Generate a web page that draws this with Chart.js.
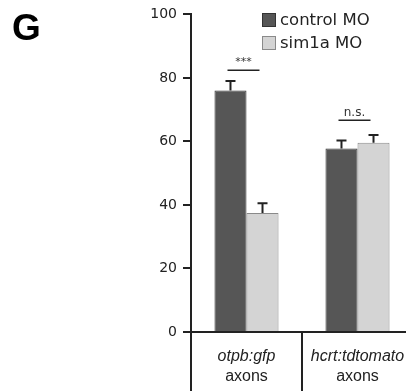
<!DOCTYPE html>
<html>
<head>
<meta charset="utf-8">
<script src="https://cdn.jsdelivr.net/npm/chart.js@4/dist/chart.umd.min.js"></script>
<style>
  html, body { margin: 0; padding: 0; background: #fff; overflow: hidden; }
  #wrap { position: absolute; left: 0; top: 0; width: 416px; height: 391px; }
</style>
</head>
<body>
<div id="wrap"><canvas id="myChart"></canvas></div>
<script>
const categories = [['otpb:gfp', 'axons'], ['hcrt:tdtomato', 'axons']]
const seriesNames = ['control MO', 'sim1a MO']
const controlVals = [76, 57.8]
const sim1aVals = [37.5, 59.6]
const controlErr = [3, 2.5]
const sim1aErr = [3, 2.4]
const sigLabels = ['***', 'n.s.']
const sigLevels = [82.4, 66.7]
const yTicks = [0, 20, 40, 60, 80, 100]

const colors = ['#565656', '#d4d4d4']
const borders = ['#333333', '#8a8a8a']
const errs = [controlErr, sim1aErr]

const extras = {
    id: 'extras',
    afterDatasetsDraw(chart) {
        const ctx = chart.ctx
        const y = chart.scales.y
        const x = chart.scales.x
        ctx.save()
        // error bars
        ctx.strokeStyle = '#222'
        ctx.lineWidth = 2
        chart.data.datasets.forEach((ds, i) => {
            chart.getDatasetMeta(i).data.forEach((bar, j) => {
                const top = y.getPixelForValue(ds.data[j] + errs[i][j])
                ctx.beginPath()
                ctx.moveTo(bar.x, bar.y)
                ctx.lineTo(bar.x, top)
                ctx.moveTo(bar.x - 5, top)
                ctx.lineTo(bar.x + 5, top)
                ctx.stroke()
            })
        })
        // significance marks
        ctx.fillStyle = '#333'
        ctx.textAlign = 'center'
        ctx.textBaseline = 'bottom'
        sigLabels.forEach((lab, j) => {
            const cx = x.getPixelForValue(j) - 3
            const ly = y.getPixelForValue(sigLevels[j])
            ctx.lineWidth = 1.5
            ctx.beginPath()
            ctx.moveTo(cx - 16, ly)
            ctx.lineTo(cx + 16, ly)
            ctx.stroke()
            ctx.font = (j === 0 ? '11px' : '12px') + ' "DejaVu Sans"'
            ctx.fillText(lab, cx, ly - (j === 0 ? 3 : 1))
        })
        // category labels
        ctx.fillStyle = '#222'
        ctx.textBaseline = 'middle'
        categories.forEach((c, j) => {
            const cx = x.getPixelForValue(j)
            ctx.font = 'italic 16px "Liberation Sans"'
            ctx.fillText(c[0], cx, 357)
            ctx.font = '16px "Liberation Sans"'
            ctx.fillText(c[1], cx, 377)
        })
        // legend
        ctx.textAlign = 'left'
        seriesNames.forEach((n, i) => {
            const ty = 20 + i * 23
            ctx.fillStyle = colors[i]
            ctx.fillRect(262, ty - 7, 14, 14)
            ctx.strokeStyle = borders[i]
            ctx.lineWidth = 1
            ctx.strokeRect(262.5, ty - 6.5, 13, 13)
            ctx.fillStyle = '#222'
            ctx.font = '16.5px "DejaVu Sans"'
            ctx.fillText(n, 280, ty + 1)
        })
        // panel letter
        ctx.fillStyle = '#000'
        ctx.font = 'bold 37px "Liberation Sans"'
        ctx.textBaseline = 'alphabetic'
        ctx.fillText('G', 12, 40)
        ctx.restore()
    }
}

const ctx = document.getElementById('myChart').getContext('2d')
const myChart = new Chart(ctx, {
    type: 'bar',
    data: {
        labels: categories,
        datasets: seriesNames.map((name, i) => ({
            label: name,
            data: i === 0 ? controlVals : sim1aVals,
            backgroundColor: colors[i],
            borderColor: borders[i],
            borderWidth: 1,
            borderSkipped: 'bottom',
            barPercentage: 1,
            categoryPercentage: 0.577
        }))
    },
    options: {
        responsive: true,
        maintainAspectRatio: false,
        animation: false,
        layout: { padding: { top: 13, right: 3, left: 0, bottom: 0 } },
        plugins: { legend: { display: false }, tooltip: { enabled: false } },
        scales: {
            x: {
                offset: true,
                grid: { offset: true, drawOnChartArea: false, tickLength: 59, tickColor: '#222', lineWidth: 2 },
                border: { color: '#222', width: 2 },
                ticks: { display: false },
                afterFit: s => { s.height = 59 }
            },
            y: {
                min: 0,
                max: 100,
                afterBuildTicks: s => { s.ticks = yTicks.map(v => ({ value: v })) },
                grid: { drawOnChartArea: false, tickLength: 8, tickColor: '#222', lineWidth: 2 },
                border: { color: '#222', width: 2 },
                ticks: { color: '#222', padding: 6, font: { family: 'DejaVu Sans', size: 14 } },
                afterFit: s => { s.width = 191 }
            }
        }
    },
    plugins: [extras]
})
</script>
</body>
</html>
